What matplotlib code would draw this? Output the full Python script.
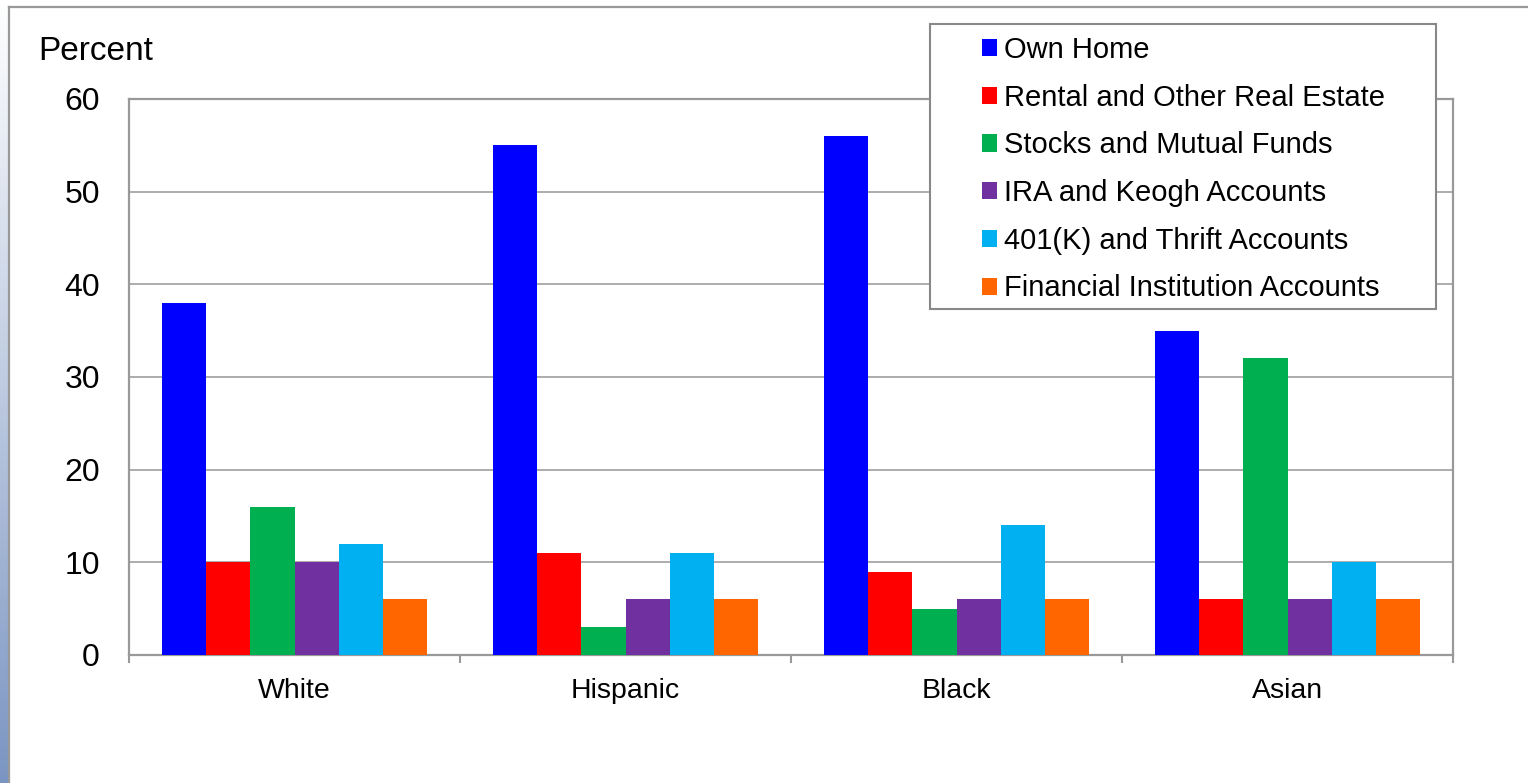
import numpy as np
import matplotlib
matplotlib.use("Agg")
import matplotlib.pyplot as plt
from matplotlib.patches import Rectangle, Patch
from matplotlib.lines import Line2D
from matplotlib.colors import LinearSegmentedColormap

plt.rcParams['font.family'] = ['Liberation Sans', 'DejaVu Sans']

categories = ['White', 'Hispanic', 'Black', 'Asian']
series_names = ['Own Home', 'Rental and Other Real Estate', 'Stocks and Mutual Funds',
                'IRA and Keogh Accounts', '401(K) and Thrift Accounts',
                'Financial Institution Accounts']
own_home = [38, 55, 56, 35]
rental_real_estate = [10, 11, 9, 6]
stocks_mutual_funds = [16, 3, 5, 32]
ira_keogh = [10, 6, 6, 6]
k401_thrift = [12, 11, 14, 10]
financial_institution = [6, 6, 6, 6]
series_values = [own_home, rental_real_estate, stocks_mutual_funds,
                 ira_keogh, k401_thrift, financial_institution]
colors = ['#0000FF', '#FF0000', '#00B050', '#7030A0', '#00B0F0', '#FF6600']
y_ticks = [0, 10, 20, 30, 40, 50, 60]

W, H = 1528, 783
fig = plt.figure(figsize=(W / 100, H / 100), dpi=100)

def fx(px):
    return px / W

def fy(py):
    return 1 - py / H

# left gradient strip
gax = fig.add_axes([0, 0, fx(9), 1])
grad = np.linspace(0, 1, 256).reshape(-1, 1)
cmap = LinearSegmentedColormap.from_list('strip', ['#ffffff', '#7b95c2'])
gax.imshow(grad, aspect='auto', cmap=cmap, extent=[0, 1, 0, 1], origin='upper')
gax.axis('off')

# outer frame lines
fig.add_artist(Line2D([fx(9), fx(9)], [fy(7), 0], transform=fig.transFigure, color='#999999', lw=1.6))
fig.add_artist(Line2D([fx(9), 1], [fy(7), fy(7)], transform=fig.transFigure, color='#999999', lw=1.6))

ax = fig.add_axes([fx(129), fy(655), fx(1453) - fx(129), fy(99) - fy(655)])

n = len(series_values)
bw = 0.8 / n
x = np.arange(len(categories))
for i, (vals, c) in enumerate(zip(series_values, colors)):
    ax.bar(x - 0.4 + bw * (i + 0.5), vals, width=bw, color=c, edgecolor='none',
           label=series_names[i], zorder=3)

ax.set_xlim(-0.5, len(categories) - 0.5)
ax.set_ylim(0, 60)
ax.set_yticks(y_ticks)
ax.set_yticklabels([str(t) for t in y_ticks], fontsize=23)
ax.tick_params(axis='y', length=0, pad=21)
ax.yaxis.grid(True, color='#a6a6a6', lw=1.3, zorder=0)
ax.set_axisbelow(True)

ax.set_xticks(x)
ax.set_xticklabels(categories, fontsize=20.5)
ax.set_xticks(np.arange(-0.5, len(categories), 1.0), minor=True)
ax.tick_params(axis='x', which='major', length=0, pad=16.3)
ax.tick_params(axis='x', which='minor', length=6, width=1.5, color='#999999', direction='out')

for s in ax.spines.values():
    s.set_color('#999999')
    s.set_linewidth(1.6)

fig.text(fx(38), fy(52), 'Percent', fontsize=24, ha='left', va='center')

# legend box
fig.add_artist(Rectangle((fx(930), fy(309)), fx(1436) - fx(930), fy(24) - fy(309),
                         transform=fig.transFigure, facecolor='white', edgecolor='#888888',
                         lw=1.5, zorder=5))
handles = [Patch(facecolor=c, edgecolor='none') for c in colors]
leg = fig.legend(handles, series_names, loc='upper left',
                 bbox_to_anchor=(fx(982), fy(36)), bbox_transform=fig.transFigure,
                 frameon=False, fontsize=21, borderpad=0, borderaxespad=0,
                 handlelength=0.53, handleheight=0.53, handletextpad=0.22,
                 labelspacing=0.675)
leg.set_zorder(6)

fig.savefig('out.png', dpi=100)
